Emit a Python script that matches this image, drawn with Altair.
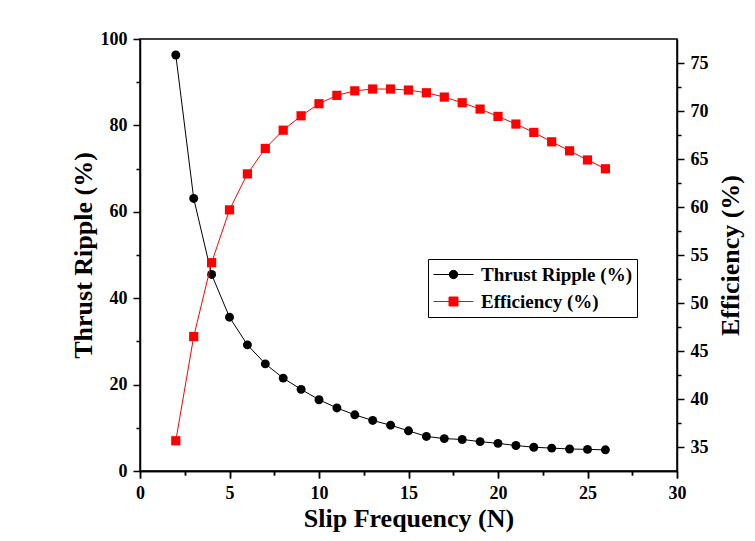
import altair as alt
import pandas as pd

# ---- data ----
slip_freq = list(range(2, 27))
thrust_ripple = [96.3, 63.1, 45.5, 35.6, 29.2, 24.8, 21.5, 18.9, 16.5, 14.6, 13.0, 11.7,
                 10.6, 9.3, 8.0, 7.5, 7.3, 6.8, 6.4, 5.9, 5.5, 5.3, 5.1, 5.0, 4.9]
efficiency = [35.65, 46.5, 54.2, 59.7, 63.45, 66.1, 68.0, 69.5, 70.76, 71.63, 72.1, 72.29,
              72.29, 72.18, 71.9, 71.45, 70.86, 70.2, 69.44, 68.64, 67.77, 66.79, 65.85, 64.9, 63.98]
series_names = ["Thrust Ripple (%)", "Efficiency (%)"]
series_colors = ["black", "red"]

x_tick_values = [0, 2.5, 5, 7.5, 10, 12.5, 15, 17.5, 20, 22.5, 25, 27.5, 30]
left_tick_values = [0, 10, 20, 30, 40, 50, 60, 70, 80, 90, 100]
right_tick_values = [35, 37.5, 40, 42.5, 45, 47.5, 50, 52.5, 55, 57.5, 60, 62.5, 65, 67.5,
                     70, 72.5, 75]

df_t = pd.DataFrame({"x": slip_freq, "y": thrust_ripple, "series": series_names[0]})
df_e = pd.DataFrame({"x": slip_freq, "y": efficiency, "series": series_names[1]})

FONT = "Liberation Serif"

legend_paths = [
    "M -2 0 H 2 M 0.42 0 A 0.42 0.42 0 1 1 -0.42 0 A 0.42 0.42 0 1 1 0.42 0 Z",
    "M -2 0 H 2 M -0.45 -0.45 H 0.45 V 0.45 H -0.45 Z",
]

def minor_size(step):
    return {"condition": {"test": f"datum.value % {step} == 0", "value": 7}, "value": 4}

x_scale = alt.Scale(domain=[0, 30], nice=False, zero=False)

x_bottom = alt.X("x:Q", scale=x_scale, axis=alt.Axis(
    values=x_tick_values, labelExpr="datum.value % 5 == 0 ? datum.label : ''",
    labelFlush=False, tickSize=minor_size(5), labelPadding=6, title="Slip Frequency (N)",
    titleBaseline="alphabetic", titleY=55, titleAlign="center"))

x_top = alt.X("x:Q", scale=x_scale, axis=alt.Axis(
    orient="bottom", position=0, values=x_tick_values, labels=False,
    tickSize=minor_size(5), title=None))

y_left = alt.Y("y:Q", scale=alt.Scale(domain=[0, 100], nice=False, zero=False), axis=alt.Axis(
    values=left_tick_values, labelExpr="datum.value % 20 == 0 ? datum.label : ''",
    labelFlush=False, tickSize=minor_size(20), labelPadding=6, title="Thrust Ripple (%)",
    titleBaseline="alphabetic", titleX=-49, titleAngle=270))

y_right = alt.Y("y:Q", scale=alt.Scale(domain=[32.5, 77.5], nice=False, zero=False), axis=alt.Axis(
    orient="right", values=right_tick_values,
    labelExpr="datum.value % 5 == 0 ? datum.label : ''", labelFlush=False,
    tickSize=minor_size(5), labelPadding=6, title="Efficiency (%)",
    titleBaseline="alphabetic", titleX=61, titleAngle=270))

legend = alt.Legend(
    title=None, orient="none", legendX=288, legendY=220, strokeColor="black",
    fillColor="white", padding=5, rowPadding=6, symbolSize=400, symbolStrokeWidth=1,
    symbolOpacity=1, symbolOffset=10, labelOffset=17, labelFont=FONT, labelFontSize=19,
    labelFontWeight="bold", labelColor="black")

t_line = alt.Chart(df_t).mark_line(color="black", strokeWidth=1).encode(x=x_bottom, y=y_left)
t_pts = alt.Chart(df_t).mark_point(filled=True, shape="circle", size=80, color="black",
                                    opacity=1).encode(x=x_bottom, y=y_left)

legend_layer = alt.Chart(pd.concat([df_t, df_e])).transform_filter("false").mark_point(
    filled=True, strokeWidth=1).encode(
    x=x_bottom, y=y_left,
    fill=alt.Fill("series:N", scale=alt.Scale(domain=series_names, range=series_colors), legend=legend),
    stroke=alt.Stroke("series:N", scale=alt.Scale(domain=series_names, range=series_colors), legend=legend),
    shape=alt.Shape("series:N", scale=alt.Scale(domain=series_names, range=legend_paths), legend=legend),
)

e_line = alt.Chart(df_e).mark_line(color="red", strokeWidth=1).encode(x=x_top, y=y_right)
e_pts = alt.Chart(df_e).mark_point(filled=True, shape="square", size=85, color="red",
                                    opacity=1).encode(x=x_top, y=y_right)

thrust = alt.layer(t_line, t_pts, legend_layer)
eff = alt.layer(e_line, e_pts)

chart = alt.layer(thrust, eff).resolve_scale(y="independent").resolve_axis(
    x="independent", y="independent"
).properties(
    width=537, height=432, autosize="none",
    padding={"left": 132, "top": 31, "right": 70, "bottom": 62},
).configure_axis(
    labelFont=FONT, labelFontSize=18, labelFontWeight="bold", labelColor="black",
    titleFont=FONT, titleFontSize=26, titleFontWeight="bold", titleColor="black",
    domainColor="black", domainWidth=1.5, tickColor="black", tickWidth=1.5, grid=False,
).configure_view(stroke="black", strokeWidth=1.5)

chart.save("out.html", embed_options={"renderer": "svg", "actions": False})
